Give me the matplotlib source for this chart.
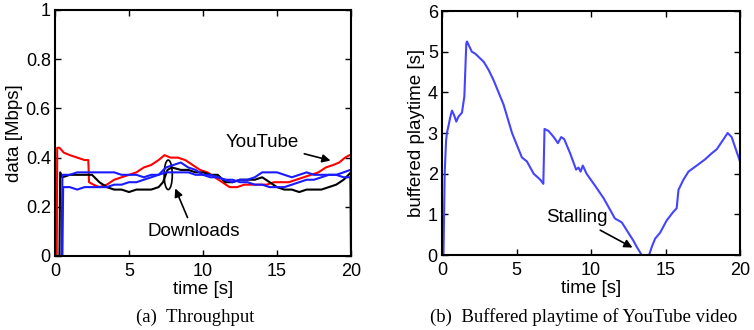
import matplotlib
matplotlib.use("Agg")
import matplotlib.pyplot as plt
from matplotlib.patches import Ellipse
from matplotlib.ticker import FuncFormatter

plt.rcParams["font.family"] = ["Liberation Sans", "DejaVu Sans"]

# (a) throughput, YouTube flow (red)
yt_t = [0.12, 0.15, 0.3, 0.6, 1.0, 1.5, 2.0, 2.25, 2.3, 2.6, 3.0, 3.5, 4.0, 4.5,
        5.0, 5.5, 6.0, 6.5, 7.0, 7.4, 7.8, 8.3, 8.8, 9.3, 9.8, 10.3, 10.8, 11.3,
        11.8, 12.3, 12.8, 13.3, 13.8, 14.3, 14.8, 15.3, 15.8, 16.3, 16.8, 17.3,
        17.8, 18.3, 18.8, 19.2, 19.6, 19.9, 20.0]
yt_v = [0, 0.44, 0.44, 0.42, 0.41, 0.40, 0.39, 0.39, 0.30, 0.29, 0.28, 0.29,
        0.31, 0.32, 0.33, 0.34, 0.36, 0.37, 0.39, 0.41, 0.40, 0.40, 0.39, 0.37,
        0.35, 0.34, 0.32, 0.30, 0.28, 0.28, 0.29, 0.29, 0.29, 0.29, 0.30, 0.30,
        0.30, 0.31, 0.32, 0.33, 0.34, 0.36, 0.37, 0.38, 0.40, 0.41, 0.41]

# download flows
dl1_t = [0.3, 0.35, 0.5, 1.0, 1.5, 2.0, 2.5, 3.0, 3.5, 4.0, 4.5, 5.0, 5.5, 6.0,
         6.5, 7.0, 7.3, 7.6, 7.9, 8.5, 9.0, 9.5, 10.0, 10.5, 11.0, 11.5, 12.0,
         12.5, 13.0, 13.5, 14.0, 14.5, 15.0, 15.5, 16.0, 16.5, 17.0, 17.5, 18.0,
         18.5, 19.0, 19.5, 20.0]
dl1_v = [0, 0.34, 0.32, 0.33, 0.33, 0.33, 0.33, 0.30, 0.28, 0.27, 0.27, 0.26,
         0.27, 0.27, 0.27, 0.28, 0.30, 0.35, 0.36, 0.35, 0.35, 0.34, 0.34, 0.33,
         0.33, 0.30, 0.30, 0.31, 0.31, 0.31, 0.32, 0.30, 0.28, 0.27, 0.27, 0.26,
         0.27, 0.27, 0.27, 0.28, 0.29, 0.31, 0.34]

dl2_t = [0.45, 0.5, 1.0, 1.5, 2.0, 2.5, 3.0, 3.5, 4.0, 4.5, 5.0, 5.5, 6.0, 6.5,
         7.0, 7.5, 8.0, 8.5, 9.0, 9.5, 10.0, 10.5, 11.0, 11.5, 12.0, 12.5, 13.0,
         13.5, 14.0, 14.5, 15.0, 15.5, 16.0, 16.5, 17.0, 17.5, 18.0, 18.5, 19.0,
         19.5, 19.95, 20.0]
dl2_v = [0, 0.33, 0.33, 0.34, 0.34, 0.34, 0.34, 0.34, 0.34, 0.33, 0.33, 0.33,
         0.32, 0.33, 0.33, 0.34, 0.34, 0.34, 0.34, 0.33, 0.33, 0.32, 0.32, 0.31,
         0.30, 0.31, 0.31, 0.32, 0.34, 0.34, 0.34, 0.33, 0.32, 0.33, 0.34, 0.33,
         0.33, 0.33, 0.33, 0.32, 0.32, 0]

dl3_t = [0.5, 0.55, 1.0, 1.5, 2.0, 2.5, 3.0, 3.5, 4.0, 4.5, 5.0, 5.5, 6.0, 6.5,
         7.0, 7.5, 8.0, 8.5, 9.0, 9.5, 10.0, 10.5, 11.0, 11.5, 12.0, 12.5, 13.0,
         13.5, 14.0, 14.5, 15.0, 15.5, 16.0, 16.5, 17.0, 17.5, 18.0, 18.5, 19.0,
         19.5, 19.95]
dl3_v = [0, 0.28, 0.28, 0.27, 0.28, 0.28, 0.28, 0.28, 0.29, 0.29, 0.30, 0.30,
         0.31, 0.32, 0.33, 0.36, 0.37, 0.38, 0.36, 0.35, 0.33, 0.33, 0.32, 0.31,
         0.31, 0.30, 0.30, 0.29, 0.29, 0.28, 0.28, 0.28, 0.29, 0.30, 0.31, 0.31,
         0.32, 0.33, 0.33, 0.34, 0.35]

# (b) buffered playtime
buf_t = [0.1, 0.18, 0.27, 0.33, 0.45, 0.56, 0.67, 0.8, 0.96, 1.1, 1.34, 1.5,
         1.56, 1.63, 1.68, 2.0, 2.23, 2.8, 3.13, 3.46, 4.13, 4.7, 5.36, 5.7,
         6.15, 6.6, 6.8, 6.88, 7.15, 7.5, 7.78, 8.0, 8.2, 8.6, 9.0, 9.16, 9.3,
         9.45, 9.7, 10.28, 10.84, 11.3, 11.6, 12.07, 12.5, 12.85, 13.07, 13.4,
         13.9, 14.08, 14.3, 14.64, 15.08, 15.5, 15.75, 15.87, 16.2, 16.54, 17.1,
         17.65, 18.1, 18.44, 18.9, 19.17, 19.44, 20.0]
buf_v = [0, 2.0, 2.8, 3.0, 3.2, 3.4, 3.55, 3.45, 3.28, 3.4, 3.5, 3.9, 4.5,
         5.2, 5.25, 5.0, 4.95, 4.75, 4.55, 4.3, 3.7, 3.0, 2.4, 2.3, 2.0, 1.85,
         1.75, 3.1, 3.05, 2.9, 2.75, 2.9, 2.85, 2.5, 2.1, 2.15, 2.05, 2.2, 2.0,
         1.7, 1.4, 1.1, 0.9, 0.8, 0.55, 0.35, 0.2, 0, 0, 0.2, 0.4, 0.55, 0.85,
         1.05, 1.15, 1.6, 1.85, 2.05, 2.2, 2.35, 2.5, 2.6, 2.85, 3.0, 2.9, 2.3]

W, H = 754, 330
fig = plt.figure(figsize=(W / 100, H / 100), dpi=100)
ax1 = fig.add_axes([55 / W, (H - 256) / H, 296 / W, 246 / H])
ax2 = fig.add_axes([442 / W, (H - 255) / H, 298 / W, 244 / H])

ax1.plot(yt_t, yt_v, color="red", lw=1.5)
ax1.plot(dl1_t, dl1_v, color="black", lw=1.5)
ax1.plot(dl3_t, dl3_v, color="#1a1aff", lw=1.5)
ax1.plot(dl2_t, dl2_v, color="#1a1aff", lw=1.5)
ax1.add_patch(Ellipse((7.65, 0.33), 0.55, 0.12, fill=False, ec="black", lw=1.2))

arrow = dict(arrowstyle="-|>", color="black", lw=1.2, mutation_scale=12)
ax1.annotate("YouTube", xy=(18.8, 0.385), xytext=(14.0, 0.46),
             ha="center", va="center", fontsize=13.5, arrowprops=arrow)
ax1.annotate("Downloads", xy=(8.05, 0.285), xytext=(9.35, 0.10),
             ha="center", va="center", fontsize=13.5, arrowprops=arrow)

ax2.plot(buf_t, buf_v, color="#4444ff", lw=1.5)
ax2.annotate("Stalling", xy=(12.95, 0.15), xytext=(9.05, 0.92),
             ha="center", va="center", fontsize=13.5, arrowprops=arrow)

ax1.set_xlim(0, 20)
ax1.set_ylim(0, 1)
ax1.set_yticks([0, 0.2, 0.4, 0.6, 0.8, 1])
ax1.yaxis.set_major_formatter(FuncFormatter(lambda v, p: f"{v:g}"))
ax1.set_ylabel("data [Mbps]", fontsize=13.5, labelpad=2)

ax2.set_xlim(0, 20)
ax2.set_ylim(0, 6)
ax2.set_yticks(range(7))
ax2.set_ylabel("buffered playtime [s]", fontsize=13.5, labelpad=2)

for ax in (ax1, ax2):
    ax.set_xticks([0, 5, 10, 15, 20])
    ax.set_xlabel("time [s]", fontsize=13.5, labelpad=1)
    ax.tick_params(direction="in", top=True, right=True, length=4, width=1,
                   labelsize=13, pad=3)
    ax.tick_params(axis="x", pad=5)
    for s in ax.spines.values():
        s.set_linewidth(1.5)

cap = dict(ha="center", va="center", fontsize=13.5,
           family=["Liberation Serif", "DejaVu Serif"])
fig.text(195 / W, 1 - 317 / H, "(a)  Throughput", **cap)
fig.text(584 / W, 1 - 317 / H, "(b)  Buffered playtime of YouTube video", **cap)

fig.savefig("out.png", dpi=100)
